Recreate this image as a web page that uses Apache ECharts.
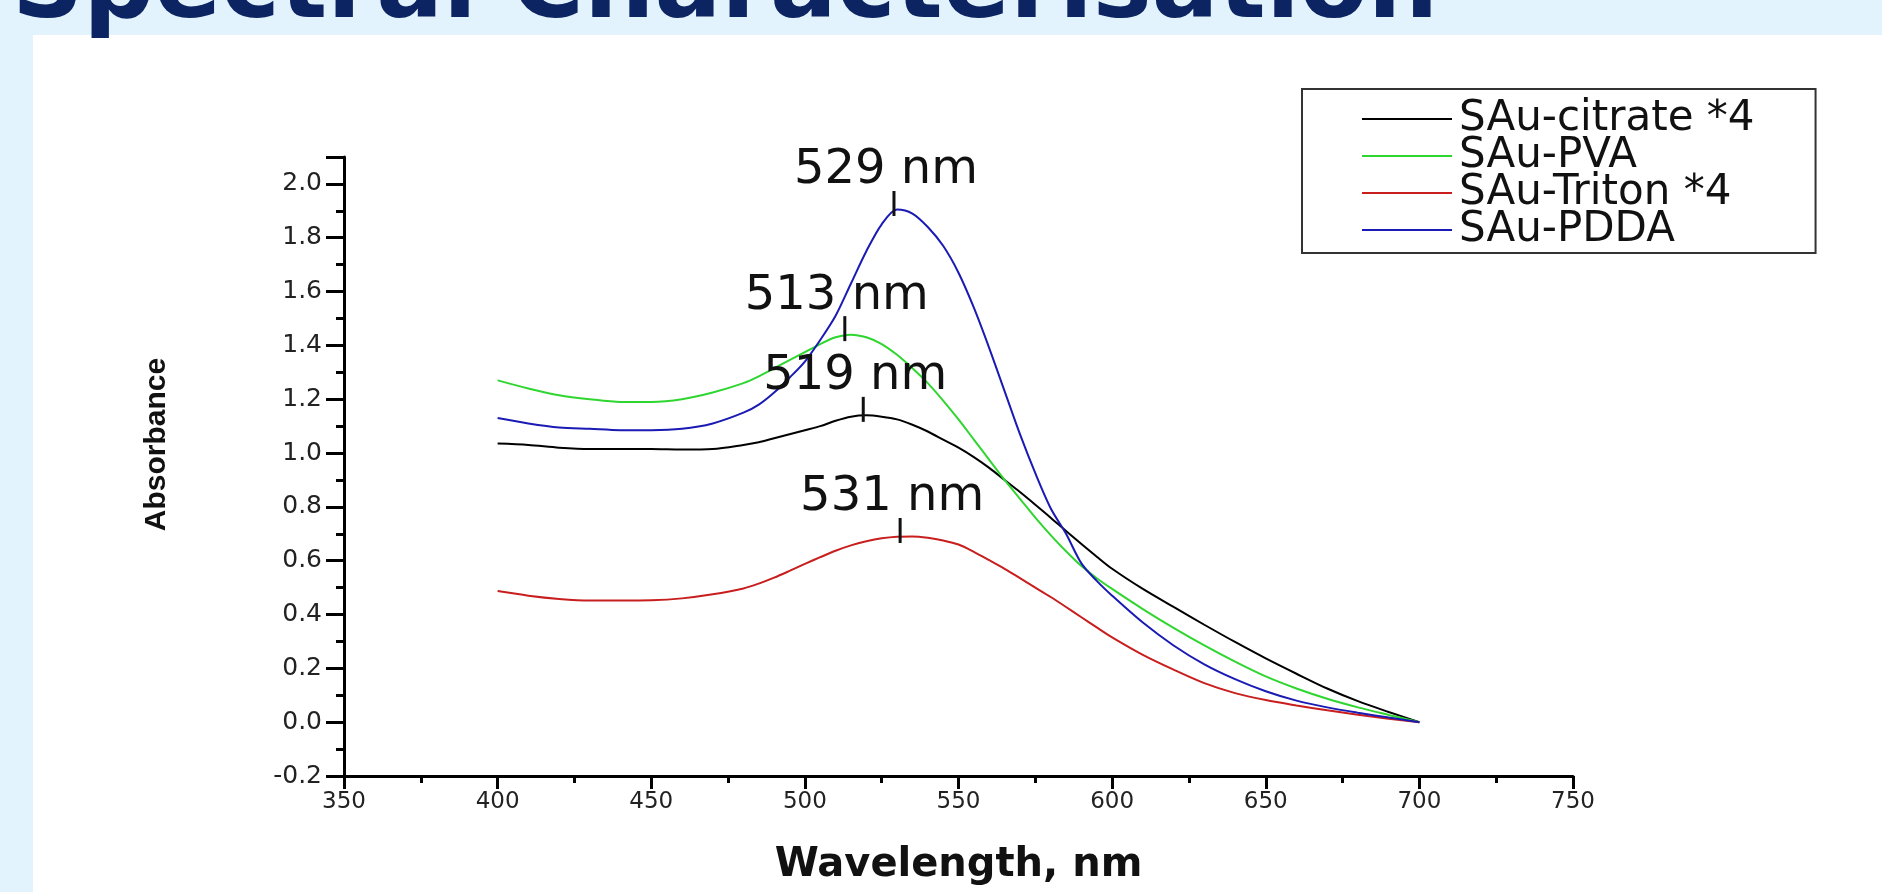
<!DOCTYPE html>
<html>
<head>
<meta charset="utf-8">
<title>Spectral Characterisation</title>
<script src="https://cdn.jsdelivr.net/npm/echarts@6/dist/echarts.min.js"></script>
<style>
  html, body { margin: 0; padding: 0; background: #e2f3fe; overflow: hidden; }
  .panel { position: absolute; left: 33px; top: 35px; right: 0; bottom: 0; background: #fff; }
  .container { position: absolute; left: 0; top: 0; width: 1882px; height: 892px; }
</style>
</head>
<body>
<div class="panel"></div>
<div class="container"></div>
<script>
// 波长 (nm)，峰值附近取 5 nm
var wavelength = [400, 410, 420, 430, 440, 450, 460, 470,
    480, 485, 490, 495, 500, 505, 510, 515, 520, 525, 530, 535, 540, 545, 550, 555, 560, 565, 570, 575, 580, 585, 590, 595, 600,
    610, 620, 630, 640, 650, 660, 670, 680, 690, 700];
// 各样品吸光度
var citrate = [1.035, 1.03, 1.02, 1.015, 1.015, 1.015, 1.013, 1.015,
    1.03, 1.04, 1.055, 1.07, 1.085, 1.10, 1.12, 1.135, 1.14, 1.135, 1.125, 1.105, 1.08, 1.05, 1.02, 0.985, 0.945, 0.90, 0.855, 0.808, 0.76, 0.71, 0.662, 0.615, 0.57,
    0.495, 0.428, 0.362, 0.298, 0.237, 0.18, 0.125, 0.078, 0.038, 0.0];
var pva = [1.27, 1.24, 1.215, 1.2, 1.19, 1.19, 1.2, 1.225,
    1.26, 1.285, 1.315, 1.345, 1.375, 1.405, 1.43, 1.44, 1.43, 1.405, 1.365, 1.315, 1.26, 1.195, 1.125, 1.05, 0.975, 0.9, 0.83, 0.76, 0.695, 0.635, 0.58, 0.535, 0.495,
    0.42, 0.35, 0.285, 0.225, 0.17, 0.125, 0.087, 0.055, 0.027, 0.0];
var triton = [0.487, 0.47, 0.458, 0.452, 0.452, 0.453, 0.46, 0.475,
    0.497, 0.515, 0.537, 0.562, 0.588, 0.613, 0.637, 0.657, 0.672, 0.683, 0.689, 0.69, 0.685, 0.675, 0.66, 0.633, 0.602, 0.57, 0.535, 0.5, 0.465, 0.428, 0.39, 0.352, 0.315,
    0.25, 0.195, 0.145, 0.108, 0.082, 0.062, 0.044, 0.028, 0.013, 0.0];
var pdda = [1.13, 1.11, 1.095, 1.09, 1.085, 1.085, 1.09, 1.11,
    1.15, 1.18, 1.225, 1.28, 1.34, 1.42, 1.51, 1.63, 1.75, 1.85, 1.905, 1.89, 1.84, 1.77, 1.67, 1.54, 1.39, 1.23, 1.07, 0.925, 0.795, 0.70, 0.59, 0.525, 0.47,
    0.37, 0.285, 0.215, 0.16, 0.115, 0.08, 0.055, 0.035, 0.017, 0.0];

var names = ['SAu-citrate *4', 'SAu-PVA', 'SAu-Triton *4', 'SAu-PDDA'];
var colors = ['#000000', '#2fd62f', '#c81e1e', '#1a1ab4'];
// 峰位标注
var peakNm = [519, 513, 531, 529];
var peakAbs = [1.14, 1.44, 0.69, 1.905];

var dom = document.querySelector('.container');
var myChart = echarts.init(dom, null, { renderer: 'canvas' });

function pairs(vals) {
    return wavelength.map(function (x, i) { return [x, vals[i]]; });
}

var seriesVals = [citrate, pva, triton, pdda];
var series = seriesVals.map(function (vals, i) {
    return {
        name: names[i],
        type: 'line',
        data: pairs(vals),
        smooth: 0.3,
        symbol: 'none',
        lineStyle: { color: colors[i], width: 2 },
        itemStyle: { color: colors[i] },
        markPoint: {
            symbol: 'rect',
            symbolSize: [3, 25],
            symbolOffset: [0, -6],
            itemStyle: { color: '#111' },
            label: {
                show: true,
                position: 'top',
                distance: -4,
                offset: [-8, 0],
                formatter: peakNm[i] + ' nm',
                color: '#111',
                fontFamily: 'DejaVu Sans',
                fontSize: 48
            },
            data: [{ coord: [peakNm[i], peakAbs[i]] }]
        }
    };
});

var option = {
    animation: false,
    backgroundColor: 'transparent',
    graphic: [
        {
            type: 'text',
            left: 12,
            top: -58,
            silent: true,
            style: {
                text: 'Spectral Characterisation',
                fontFamily: 'DejaVu Sans',
                fontWeight: 'bold',
                fontSize: 99,
                fill: '#0c2461'
            }
        }
    ],
    legend: {
        orient: 'vertical',
        left: 1302,
        top: 89,
        icon: 'rect',
        itemWidth: 90,
        itemHeight: 2,
        itemGap: -5,
        padding: [9, 61, 2, 60],
        borderColor: '#333',
        borderWidth: 2,
        data: names,
        textStyle: {
            color: '#111',
            fontFamily: 'DejaVu Sans',
            fontSize: 42,
            padding: [0, 0, 0, 2]
        }
    },
    grid: {
        left: 344,
        top: 157,
        width: 1229,
        height: 619
    },
    xAxis: {
        type: 'value',
        min: 350,
        max: 750,
        interval: 50,
        name: 'Wavelength, nm',
        nameLocation: 'middle',
        nameGap: 70,
        nameTextStyle: {
            color: '#111',
            fontFamily: 'DejaVu Sans',
            fontWeight: 'bold',
            fontSize: 40
        },
        axisLine: { onZero: false, lineStyle: { color: '#000', width: 3 } },
        axisTick: { length: 13, lineStyle: { color: '#000', width: 3 } },
        minorTick: { show: true, splitNumber: 2, length: 7, lineStyle: { color: '#000', width: 3 } },
        splitLine: { show: false },
        axisLabel: {
            margin: 15,
            color: '#222',
            fontFamily: 'DejaVu Sans',
            fontSize: 23
        }
    },
    yAxis: {
        type: 'value',
        min: -0.2,
        max: 2.1,
        interval: 0.2,
        name: 'Absorbance',
        nameLocation: 'middle',
        nameRotate: 90,
        nameGap: 172,
        nameTextStyle: {
            color: '#111',
            fontFamily: 'Liberation Sans',
            fontWeight: 'bold',
            fontSize: 30,
            padding: [0, 0, 0, 44]
        },
        axisLine: { show: true, lineStyle: { color: '#000', width: 3 } },
        axisTick: { length: 18, lineStyle: { color: '#000', width: 3 } },
        minorTick: { show: true, splitNumber: 2, length: 8, lineStyle: { color: '#000', width: 3 } },
        splitLine: { show: false },
        axisLabel: {
            margin: 22,
            color: '#222',
            fontFamily: 'DejaVu Sans',
            fontSize: 25,
            showMaxLabel: false,
            formatter: function (v) {
                if (v > 2.05) return '';
                return v.toFixed(1);
            }
        }
    },
    series: series
};

if (option && typeof option === 'object') {
    myChart.setOption(option, true);
}
</script>
</body>
</html>
